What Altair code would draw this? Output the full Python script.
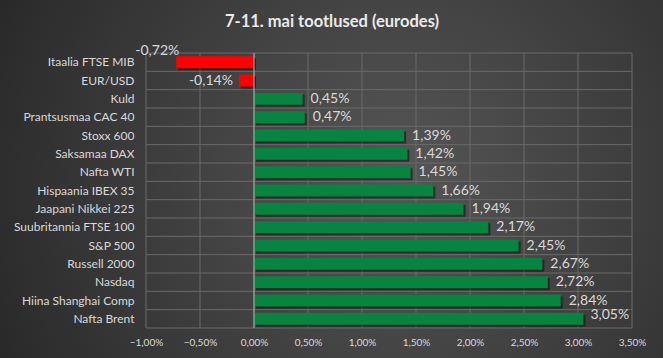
import altair as alt
import pandas as pd

categories = ["Itaalia FTSE MIB", "EUR/USD", "Kuld", "Prantsusmaa CAC 40", "Stoxx 600",
              "Saksamaa DAX", "Nafta WTI", "Hispaania IBEX 35", "Jaapani Nikkei 225",
              "Suubritannia FTSE 100", "S&P 500", "Russell 2000", "Nasdaq",
              "Hiina Shanghai Comp", "Nafta Brent"]
values = [-0.72, -0.14, 0.45, 0.47, 1.39, 1.42, 1.45, 1.66, 1.94, 2.17, 2.45, 2.67, 2.72, 2.84, 3.05]
x_ticks = [-1.0, -0.5, 0.0, 0.5, 1.0, 1.5, 2.0, 2.5, 3.0, 3.5]
title_text = "7-11. mai tootlused (eurodes)"

df = pd.DataFrame({"cat": categories, "val": values})
df["lbl"] = [f"{v:.2f}".replace(".", ",") + "%" for v in values]

W, H = 486, 275
PL, PT, PR, PB = 146, 53, 31, 30
FONT = "Lato"
TXT = "#d9d9d9"
GRID = "#6a6a6a"

yscale = alt.Scale(domain=categories, paddingInner=0, paddingOuter=0)
xscale = alt.Scale(domain=[-1.0, 3.5], nice=False, zero=False)
BAR_H = 12

bg = alt.Chart(pd.DataFrame({"a": [0]})).mark_rect(
    clip=False,
    fill={"gradient": "radial", "x1": 0.6, "y1": 0.5, "r1": 0.0,
          "x2": 0.6, "y2": 0.5, "r2": 0.75,
          "stops": [{"offset": 0, "color": "#565656"},
                    {"offset": 1, "color": "#232323"}]},
).encode(
    x=alt.value(-PL), x2=alt.value(W + PR), y=alt.value(-PT), y2=alt.value(H + PB)
)

base = alt.Chart(df)

vgrid = alt.Chart(pd.DataFrame({"t": x_ticks})).mark_rule(color=GRID, strokeWidth=1).encode(
    x=alt.X("t:Q", scale=xscale), y=alt.value(0), y2=alt.value(H)
)
hgrid = base.mark_rule(color=GRID, strokeWidth=1).encode(
    y=alt.Y("cat:N", scale=yscale, sort=None, bandPosition=0),
    x=alt.value(0), x2=alt.value(W)
)
hgrid_bottom = alt.Chart(pd.DataFrame({"a": [0]})).mark_rule(color=GRID, strokeWidth=1).encode(
    y=alt.value(H), x=alt.value(0), x2=alt.value(W)
)

y_enc = alt.Y("cat:N", scale=yscale, sort=None, title=None,
              axis=alt.Axis(grid=False, domain=False, ticks=False, zindex=1,
                            labelColor=TXT, labelFont=FONT, labelFontSize=12,
                            labelPadding=12))
x_enc = alt.X("val:Q", scale=xscale, title=None,
              axis=alt.Axis(values=x_ticks, grid=False, domain=False, ticks=False,
                            zindex=1, labelColor=TXT,
                            labelFont=FONT, labelFontSize=10, labelPadding=9,
                            labelFlush=False,
                            labelExpr="replace(format(datum.value, '.2f'), '.', ',') + '%'"))

shadow = base.mark_bar(color="black", opacity=0.45, height=BAR_H, xOffset=2, x2Offset=2,
                       yOffset=2, y2Offset=2).encode(
    x=alt.X("val:Q", scale=xscale), x2=alt.datum(0),
    y=alt.Y("cat:N", scale=yscale, sort=None)
)

bars = base.mark_bar(height=BAR_H).encode(
    x=x_enc, x2=alt.datum(0), y=y_enc,
    color=alt.condition("datum.val < 0", alt.value("#ff0000"), alt.value("#07843f")),
)

zero = alt.Chart(pd.DataFrame({"z": [0]})).mark_rule(color="#b0b0b0", strokeWidth=1).encode(
    x=alt.X("z:Q", scale=xscale), y=alt.value(0), y2=alt.value(H)
)

def lab(filt, align, dx, dy):
    return base.transform_filter(filt).mark_text(
        align=align, baseline="middle", dx=dx, dy=dy, font=FONT, fontSize=14, color=TXT
    ).encode(x=alt.X("val:Q", scale=xscale),
             y=alt.Y("cat:N", scale=yscale, sort=None), text="lbl:N")

labels = [
    lab("datum.val >= 0 && datum.val <= 3", "left", 8, 0),
    lab("datum.val > 3", "left", 7, -4),
    lab("datum.val < 0 && datum.val >= -0.5", "right", -6, 0),
    lab("datum.val < -0.5", "right", 3, -11),
]

title = alt.Chart(pd.DataFrame({"t": [title_text]})).mark_text(
    font=FONT, fontSize=16.5, fontWeight="bold", color="#ebebeb",
    align="center", baseline="middle"
).encode(x=alt.value(332 - PL), y=alt.value(22 - PT), text="t:N")

chart = alt.layer(bg, vgrid, hgrid, hgrid_bottom, shadow, bars, zero, *labels, title).properties(
    width=W, height=H,
    padding={"left": PL, "top": PT, "right": PR, "bottom": PB},
    autosize=alt.AutoSizeParams(type="none"),
    background="#2e2e2e",
).configure_view(stroke=None)

chart.save("out.html", embed_options={"renderer": "svg", "actions": False})
